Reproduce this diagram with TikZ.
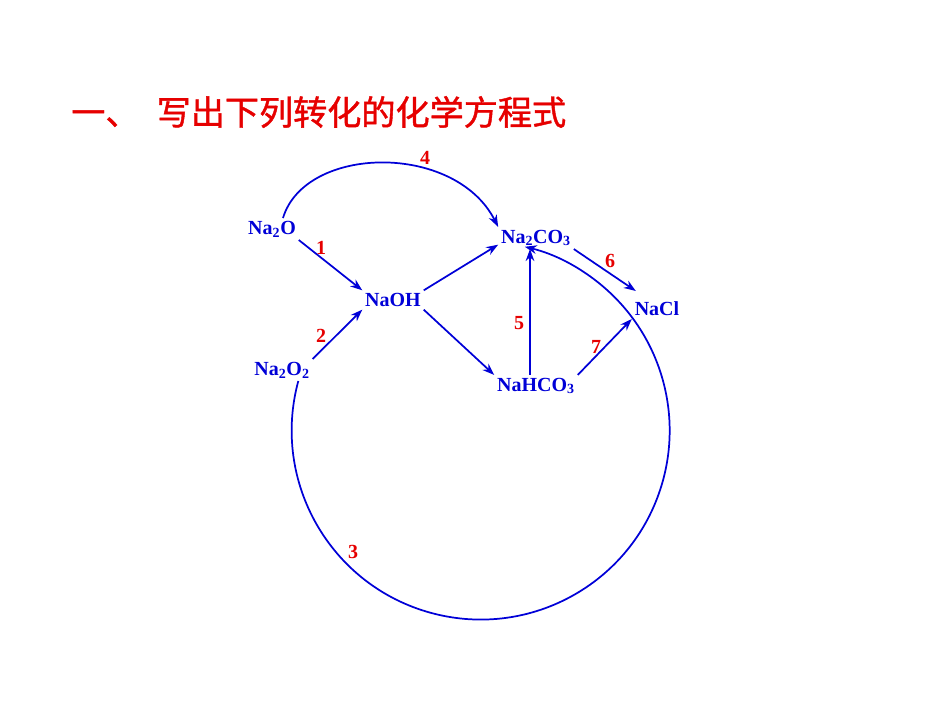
\documentclass[tikz,border=0pt]{standalone}
\usepackage{fontspec}
\setmainfont{Liberation Serif}
\newfontfamily\cjk[FakeBold=1.2]{Noto Sans CJK SC}
\usetikzlibrary{arrows.meta}
\definecolor{chemblue}{RGB}{0,0,215}
\definecolor{numred}{RGB}{230,0,0}
\tikzset{
  chem/.style={text=chemblue, font=\bfseries\fontsize{15}{18}\selectfont, inner sep=2pt},
  num/.style={text=numred, font=\bfseries\fontsize{15}{18}\selectfont, inner sep=0pt},
  arr/.style={draw=chemblue, line width=1.3pt, -{Stealth[length=9pt,width=6.5pt]}}
}
\begin{document}
\begin{tikzpicture}[x=0.75pt,y=0.75pt,yscale=-1,xscale=1]
        \useasboundingbox (0,0) rectangle (950,713);

        % Title
        \node[anchor=west, inner sep=0pt, text=numred, font=\cjk\fontsize{25.6}{30}\selectfont] (title) at (71,112) {一、\hspace{0.5em}写出下列转化的化学方程式};

        % Text Node
        \node[chem] (na2o) at (272,229) {Na\textsubscript{2}O};
        % Text Node
        \node[chem] (naoh) at (393,300) {NaOH};
        % Text Node
        \node[chem] (na2o2) at (282,370) {Na\textsubscript{2}O\textsubscript{2}};
        % Text Node
        \node[chem] (na2co3) at (536,238) {Na\textsubscript{2}CO\textsubscript{3}};
        % Text Node
        \node[chem] (nahco3) at (536,386) {NaHCO\textsubscript{3}};
        % Text Node
        \node[chem] (nacl) at (657,309) {NaCl};

        %Straight Lines
        \draw[arr] (na2o.south east) -- (naoh.north west);
        \draw[arr] (na2o2.north east) -- (naoh.south west);
        \draw[arr] (naoh.north east) -- (na2co3.190);
        \draw[arr] (naoh.south east) -- (nahco3.north west);
        \draw[arr] ([xshift=-4.5pt]nahco3.north) -- ([xshift=-4.5pt]na2co3.south);
        \draw[arr] (na2co3.south east) -- ([xshift=3pt,yshift=-6pt]nacl.north west);
        \draw[arr] (nahco3.north east) -- (nacl.south west);
        %Curves
        \draw[arr] (na2o.45) .. controls (305,145) and (455,142) .. (na2co3.north west);
        \draw[arr] (na2o2.-34) arc[start angle=195.2, end angle=-76.5, radius=189];

        % Labels
        \node[num] (l1) at (321,248) {1};
        \node[num] (l2) at (321,336) {2};
        \node[num] (l3) at (353,552) {3};
        \node[num] (l4) at (425,158) {4};
        \node[num] (l5) at (519,323) {5};
        \node[num] (l6) at (610,261) {6};
        \node[num] (l7) at (596,347) {7};

\end{tikzpicture}
\end{document}
